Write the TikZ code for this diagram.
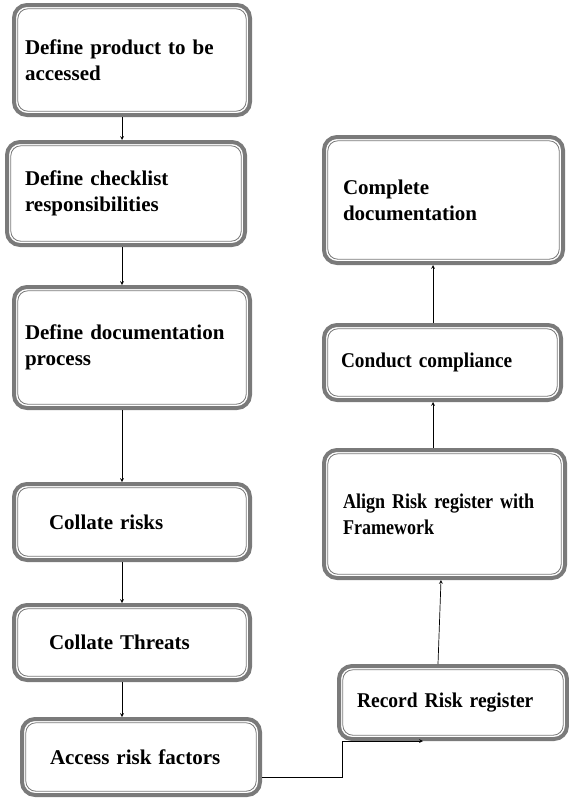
\documentclass[tikz,border=0pt]{standalone}
\usepackage{fontspec}
\setmainfont{Liberation Serif}
\newcommand{\boxfont}{\bfseries\fontsize{21}{26}\selectfont}
\definecolor{framegray}{RGB}{122,122,122}
\begin{document}
\begin{tikzpicture}[x=1pt, y=-1pt]
        \tikzstyle{stepbox} = [draw=framegray, line width=4pt, rounded corners=13pt, fill=white,
          align=left, font=\boxfont, inner ysep=2pt,
          path picture={\draw[framegray, line width=0.8pt, rounded corners=10pt]
            ([shift={(3.8pt,3.8pt)}]path picture bounding box.south west) rectangle
            ([shift={(-3.8pt,-3.8pt)}]path picture bounding box.north east);}]
        \tikzstyle{link} = [->, >=stealth, line width=0.7pt]
        \useasboundingbox (0,0) rectangle (569,798);
        % left column
        \node[stepbox, minimum width=236pt, minimum height=110pt, text width=214pt, inner xsep=11pt] (prod) at (132,60) {Define product to be\\accessed};
        \node[stepbox, minimum width=238pt, minimum height=103pt, text width=202pt, inner xsep=18pt] (check) at (126,193.5) {Define checklist\\responsibilities};
        \node[stepbox, minimum width=236pt, minimum height=121pt, text width=214pt, inner xsep=11pt] (docproc) at (132,347.5) {Define documentation\\process};
        \node[stepbox, minimum width=236pt, minimum height=76pt, text width=166pt, inner xsep=35pt] (risks) at (132,522) {Collate risks};
        \node[stepbox, minimum width=236pt, minimum height=75pt, text width=166pt, inner xsep=35pt] (threats) at (132,642.5) {Collate Threats};
        \node[stepbox, minimum width=238pt, minimum height=76pt, text width=182pt, inner xsep=28pt] (factors) at (141,757) {Access risk factors};
        % right column
        \node[stepbox, minimum width=228pt, minimum height=73pt, text width=192pt, inner xsep=18pt,
          font=\boxfont\addfontfeature{FakeStretch=0.93}] (record) at (453,702.5) {Record Risk register};
        \node[stepbox, minimum width=241pt, minimum height=128pt, text width=203pt, inner xsep=19pt,
          font=\boxfont\addfontfeature{FakeStretch=0.86}] (align) at (444.5,514) {Align Risk register with\\Framework};
        \node[stepbox, minimum width=237pt, minimum height=75pt, text width=203pt, inner xsep=17pt,
          font=\boxfont\addfontfeature{FakeStretch=0.92}] (comply) at (442.5,362.5) {Conduct compliance};
        \node[stepbox, minimum width=239pt, minimum height=126pt, text width=201pt, inner xsep=19pt] (complete) at (443.5,200) {Complete\\documentation};
        \coordinate (bend) at (342,741);
        % connectors
        \draw[link] ([xshift=-10pt]prod.south) -- ([xshift=-4pt]check.north);
        \draw[link] ([xshift=-4pt]check.south) -- ([xshift=-10pt]docproc.north);
        \draw[link] ([xshift=-10pt]docproc.south) -- ([xshift=-10pt]risks.north);
        \draw[link] ([xshift=-10pt]risks.south) -- ([xshift=-10pt]threats.north);
        \draw[link] ([xshift=-10pt]threats.south) -- ([xshift=-19pt]factors.north);
        \draw[link] ([yshift=-20pt]factors.east) -| (bend) -- ([xshift=-30pt]record.south);
        \draw[link] ([xshift=-15pt]record.north) -- ([xshift=-3.5pt]align.south);
        \draw[link] ([xshift=-11.5pt]align.north) -- ([xshift=-9.5pt]comply.south);
        \draw[link] ([xshift=-9.5pt]comply.north) -- ([xshift=-10.5pt]complete.south);
      \end{tikzpicture}
\end{document}
